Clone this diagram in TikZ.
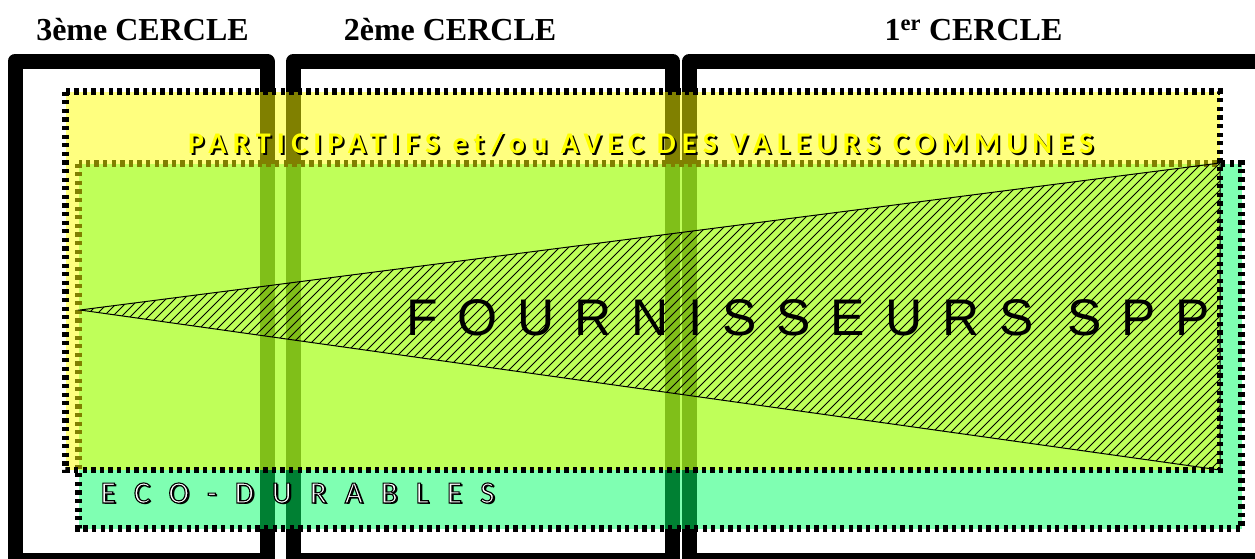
\documentclass[tikz,border=0pt]{standalone}
\usepackage{fontspec}
\setmainfont{Liberation Serif}
\newfontfamily\hdfont{Liberation Serif}
\newfontfamily\partfont{Carlito}[LetterSpace=21]
\newfontfamily\ecofont{Carlito}
\newfontfamily\fourfont{Liberation Sans}[LetterSpace=38.5]
\definecolor{ecogreen}{RGB}{0,255,102}
\definecolor{yel}{RGB}{255,255,0}
\newcommand{\ecostr}{E\hspace{18.1pt}C\hspace{18.1pt}O\hspace{18.1pt}-\hspace{18.1pt}D\hspace{18.1pt}U\hspace{18.1pt}R\hspace{18.1pt}A\hspace{18.1pt}B\hspace{18.1pt}L\hspace{18.1pt}E\hspace{18.1pt}S}
\newcommand{\outlined}[1]{{\color{white}\special{pdf:literal direct 0 0 0 RG 1.1 w 2 Tr}#1\special{pdf:literal direct 0 Tr}}}
\begin{document}
\begin{tikzpicture}[x=1pt,y=-1pt,
  frame/.style={line width=15pt, line join=round, draw=black},
  dotbox/.style={line width=6.5pt, dash pattern=on 4.3pt off 4.3pt, draw=black},
  head/.style={font=\hdfont\bfseries\fontsize{32}{36}\selectfont, anchor=base, inner sep=0pt},
  parttext/.style={font=\partfont\bfseries\fontsize{30}{32}\selectfont, anchor=base west, inner sep=0pt},
  ecotext/.style={font=\ecofont\fontsize{31}{33}\selectfont, anchor=base west, inner sep=0pt},
  fourtext/.style={font=\fourfont\fontsize{51.5}{56}\selectfont, anchor=base west, inner sep=0pt},
  hatchline/.style={line width=0.75pt, draw=black},
  tri/.style={line width=1pt, draw=black}
]
\useasboundingbox (0,0) rectangle (1255,558);
\begin{scope}
\clip (0,0) rectangle (1255,558);
\draw[frame] (15,61) rectangle (267,560.5);
\draw[frame] (293.5,61) rectangle (672.5,560.5);
\draw[frame] (689.5,61) rectangle (1300,560.5);
\filldraw[dotbox, fill=ecogreen, fill opacity=0.5] (78.5,163.5) rectangle (1241.5,528.5);
\filldraw[dotbox, fill=yel, fill opacity=0.5] (65.5,91.5) rectangle (1220,470);
\end{scope}
\coordinate (apex) at (80,310);
\coordinate (tr) at (1220,163);
\coordinate (br) at (1220,470);
\begin{scope}
\clip (apex) -- (tr) -- (br) -- cycle;
\foreach \c in {240,249,...,1700}
  \draw[hatchline] (\c,0) -- ({\c-600},600);
\end{scope}
\draw[tri] (apex) -- (tr) -- (br) -- cycle;
\node[head] (c3) at (142.5,40) {3ème CERCLE};
\node[head] (c2) at (450,40) {2ème CERCLE};
\node[head] (c1) at (973.5,40) {1\textsuperscript{er} CERCLE};
\node[parttext, text=black] (partsh) at (190,155) {PARTICIPATIFS et/ou AVEC DES VALEURS COMMUNES};
\node[parttext, text=yel] (part) at (188,153) {PARTICIPATIFS et/ou AVEC DES VALEURS COMMUNES};
\node[fourtext] (four) at (406,335) {FOURNISSEURS SPP};
\node[ecotext, text=black] (ecosh) at (102.3,504.8) {\ecostr};
\node[ecotext] (eco) at (100.5,503) {\outlined{\ecostr}};
\end{tikzpicture}
\end{document}
